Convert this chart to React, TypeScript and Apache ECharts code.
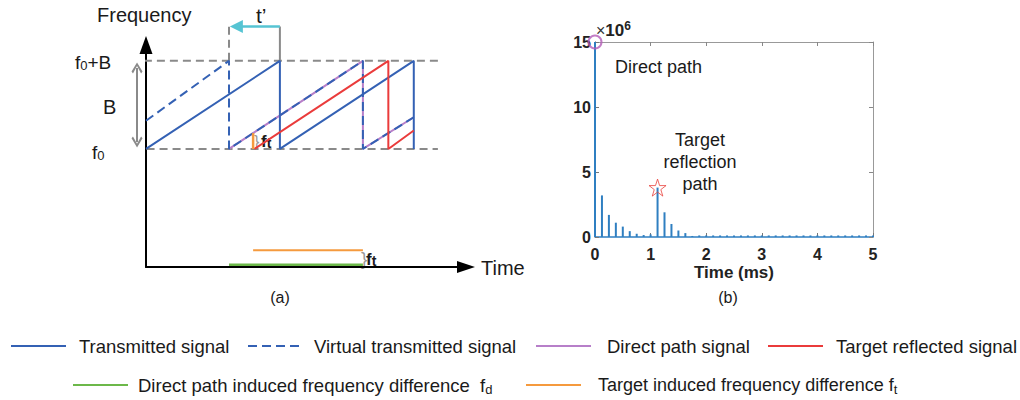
import React, { useEffect, useRef } from "react";
import * as echarts from "echarts";

const FONT = "'Liberation Sans', Arial, Helvetica, sans-serif";

// ---------- (a) schematic: x = time in chirp periods, y = frequency (B = 1, time axis at 0)
const transmittedSignal = [[0, 1.34], [1, 2.34], [1, 1.34], [2, 2.34], [2, 1.34]];
const virtualSignal = [[0, 1.66], [0.62, 2.34], [0.62, 1.34], [1.62, 2.34], [1.62, 1.34], [2, 1.7]];
const directPathSignal = [[0.62, 1.34], [1.62, 2.34], [1.62, 1.34], [2, 1.7]];
const targetReflectedSignal = [[0.81, 1.34], [1.81, 2.34], [1.81, 1.34], [2, 1.55]];
const levelF0 = [[-0.19, 1.34], [2.18, 1.34]];
const levelF0B = [[-0.21, 2.34], [2.18, 2.34]];
const virtualGuide = [[0.62, 2.34], [0.62, 2.73]];
const txGuide = [[1, 2.34], [1, 2.73]];
const tPrimeArrow = [[1, 2.73], [0.675, 2.73]];
const bandArrow = [[-0.067, 1.42], [-0.067, 2.26]];
const ftMarker = [[0.8, 1.34], [0.8, 1.52]];
const fdDifference = [[0.62, 0.025], [1.62, 0.025]];
const ftDifference = [[0.8, 0.19], [1.62, 0.19]];

// ---------- (b) stem plot: time (ms) vs magnitude (x10^6)
const stemTimes = [
  0, 0.125, 0.25, 0.375, 0.5, 0.625, 0.75, 0.875, 1, 1.125, 1.25, 1.375, 1.5, 1.625,
  1.75, 1.875, 2, 2.125, 2.25, 2.375, 2.5, 2.625, 2.75, 2.875, 3, 3.125, 3.25, 3.375,
  3.5, 3.625, 3.75, 3.875, 4, 4.125, 4.25, 4.375, 4.5, 4.625, 4.75, 4.875, 5,
];
const stemValues = [
  15, 3.2, 1.7, 1.1, 0.8, 0.45, 0.25, 0.15, 0.2, 3.8, 1.9, 1.0, 0.5, 0.3,
  0.08, 0.12, 0.12, 0.12, 0.12, 0.12, 0.12, 0.12, 0.12, 0.12, 0.12, 0.12, 0.12, 0.12,
  0.12, 0.12, 0.12, 0.12, 0.12, 0.12, 0.12, 0.12, 0.12, 0.12, 0.12, 0.12, 0.12,
];
const directPeak = [[0, 15]];
const targetPeak = [[1.125, 3.8]];

const legendNames = [
  "Transmitted signal",
  "Virtual transmitted signal",
  "Direct path signal",
  "Target reflected signal",
  "Direct path induced frequency difference",
  "Target induced frequency difference",
];

const BLUE = "#3461b4";
const PURPLE = "#b77fc9";
const RED = "#ea3b3b";
const GREEN = "#6cb84a";
const ORANGE = "#f59a3e";
const GRAY = "#8a8a8a";
const CYAN = "#56c4d3";
const STEM = "#2f7fc1";
const TXT = "#1a1a1a";

const STAR =
  "path://M50,0 L61.8,35.4 L98.9,35.4 L68.9,57.3 L80.3,92.7 L50,70.8 L19.7,92.7 L31.1,57.3 L1.1,35.4 L38.2,35.4 Z";
const CHEVRON = "path://M0,8 L6,0 L12,8 L10.4,9.6 L6,3.2 L1.6,9.6 Z";

function lineS(name: string | undefined, data: number[][], color: string, width: number, type: any, z: number) {
  return {
    type: "line",
    name,
    data,
    xAxisIndex: 0,
    yAxisIndex: 0,
    symbol: "none",
    showSymbol: false,
    clip: false,
    silent: true,
    z,
    lineStyle: { color, width, type },
    itemStyle: { color },
  };
}

function legendItem(name: string, left: number, top: number, padLeft: number, fontSize: number, formatter?: string) {
  return {
    data: [name],
    left,
    top,
    padding: 0,
    itemWidth: 55,
    itemHeight: 14,
    selectedMode: false,
    lineStyle: { width: 2 },
    itemStyle: { color: "rgba(0,0,0,0)", borderWidth: 0 },
    formatter: formatter || "{name}",
    textStyle: {
      fontFamily: FONT,
      fontSize,
      color: TXT,
      lineHeight: 22,
      padding: [0, 0, 0, padLeft],
      rich: {
        sub: { fontFamily: FONT, fontSize: 13, color: TXT, verticalAlign: "bottom", lineHeight: 18 },
      },
    },
  };
}

function txt(x: number, y: number, text: string, extra: any = {}) {
  return {
    type: "text",
    x,
    y,
    silent: true,
    style: {
      text,
      fontFamily: FONT,
      fontSize: 18,
      fill: TXT,
      align: "left",
      verticalAlign: "middle",
      ...extra,
    },
  };
}

export default function App() {
  const ref = useRef<HTMLDivElement>(null);
  useEffect(() => {
    if (!ref.current) return;
    const chart = echarts.init(ref.current, null, { renderer: "svg" });
    const subRich = {
      f: { fontFamily: FONT, fontSize: 19, fill: TXT },
      s: { fontFamily: FONT, fontSize: 13, fill: TXT, padding: [7, 0, 0, 0] },
      b: { fontFamily: FONT, fontSize: 17, fontWeight: "bold", fill: TXT },
      bs: { fontFamily: FONT, fontSize: 14, fontWeight: "bold", fill: TXT, padding: [3, 0, 0, 0] },
    };
    const option: any = {
      animation: false,
      backgroundColor: "#ffffff",
      grid: [
        { left: 146, top: 45, width: 320, height: 222 },
        { left: 595, top: 42, width: 278, height: 195 },
      ],
      xAxis: [
        {
          type: "value",
          gridIndex: 0,
          min: 0,
          max: 2.39,
          axisLine: {
            show: true,
            onZero: false,
            lineStyle: { color: "#000", width: 2 },
            symbol: ["none", "triangle"],
            symbolSize: [12, 18],
          },
          axisTick: { show: false },
          axisLabel: { show: false },
          splitLine: { show: false },
        },
        {
          type: "value",
          gridIndex: 1,
          min: 0,
          max: 5,
          interval: 1,
          axisLine: { show: true, onZero: false, lineStyle: { color: STEM, width: 1.5 } },
          axisTick: { show: true, inside: true, length: 4, lineStyle: { color: "#777" } },
          axisLabel: {
            show: true,
            margin: 9,
            fontFamily: FONT,
            fontSize: 16,
            fontWeight: "bold",
            color: "#222",
          },
          splitLine: { show: false },
          name: "Time (ms)",
          nameLocation: "middle",
          nameGap: 27,
          nameTextStyle: { fontFamily: FONT, fontSize: 17, fontWeight: "bold", color: "#222" },
        },
        {
          type: "value",
          gridIndex: 1,
          position: "top",
          min: 0,
          max: 5,
          interval: 1,
          axisLine: { show: true, onZero: false, lineStyle: { color: "#999", width: 1 } },
          axisTick: { show: true, inside: true, length: 4, lineStyle: { color: "#888" } },
          axisLabel: { show: false },
          splitLine: { show: false },
        },
      ],
      yAxis: [
        {
          type: "value",
          gridIndex: 0,
          min: 0,
          max: 2.52,
          axisLine: {
            show: true,
            onZero: false,
            lineStyle: { color: "#000", width: 2 },
            symbol: ["none", "triangle"],
            symbolSize: [13, 18],
          },
          axisTick: { show: false },
          axisLabel: { show: false },
          splitLine: { show: false },
        },
        {
          type: "value",
          gridIndex: 1,
          min: 0,
          max: 15,
          interval: 5,
          axisLine: { show: true, onZero: false, lineStyle: { color: "#444", width: 1 } },
          axisTick: { show: true, inside: true, length: 4, lineStyle: { color: "#777" } },
          axisLabel: {
            show: true,
            margin: 4,
            fontFamily: FONT,
            fontSize: 16,
            fontWeight: "bold",
            color: "#222",
          },
          splitLine: { show: false },
        },
        {
          type: "value",
          gridIndex: 1,
          position: "right",
          min: 0,
          max: 15,
          interval: 5,
          axisLine: { show: true, onZero: false, lineStyle: { color: "#999", width: 1 } },
          axisTick: { show: true, inside: true, length: 4, lineStyle: { color: "#888" } },
          axisLabel: { show: false },
          splitLine: { show: false },
        },
      ],
      legend: [
        legendItem(legendNames[0], 10, 335, 8, 18.5),
        legendItem(legendNames[1], 247, 335, 6, 18.5),
        legendItem(legendNames[2], 535, 335, 11, 18.5),
        legendItem(legendNames[3], 767, 335, 8, 18.5),
        legendItem(legendNames[4], 72, 374, 5, 18.5, "{name}  f{sub|d}"),
        legendItem(legendNames[5], 525, 374, 12, 18, "{name} f{sub|t}"),
      ],
      series: [
        lineS(undefined, levelF0, GRAY, 2, [8, 5], 1),
        lineS(undefined, levelF0B, GRAY, 2, [8, 5], 1),
        lineS(undefined, virtualGuide, GRAY, 2, [8, 5], 1),
        lineS(undefined, txGuide, GRAY, 2, "solid", 1),
        lineS(legendNames[2], directPathSignal, PURPLE, 2, "solid", 2),
        lineS(legendNames[1], virtualSignal, BLUE, 2, [9, 5], 3),
        lineS(legendNames[0], transmittedSignal, BLUE, 2, "solid", 4),
        lineS(legendNames[3], targetReflectedSignal, RED, 2, "solid", 4),
        lineS(undefined, ftMarker, ORANGE, 2.5, "solid", 5),
        lineS(legendNames[4], fdDifference, GREEN, 2.5, "solid", 5),
        lineS(legendNames[5], ftDifference, ORANGE, 2, "solid", 5),
        {
          type: "lines",
          coordinateSystem: "cartesian2d",
          xAxisIndex: 0,
          yAxisIndex: 0,
          clip: false,
          silent: true,
          z: 6,
          data: [{ coords: tPrimeArrow }],
          symbol: ["none", "triangle"],
          symbolSize: 13,
          lineStyle: { color: CYAN, width: 2.5, opacity: 1, curveness: 0 },
          itemStyle: { color: CYAN },
        },
        {
          type: "lines",
          coordinateSystem: "cartesian2d",
          xAxisIndex: 0,
          yAxisIndex: 0,
          clip: false,
          silent: true,
          z: 6,
          data: [{ coords: bandArrow }],
          symbol: [CHEVRON, CHEVRON],
          symbolSize: 11,
          lineStyle: { color: GRAY, width: 2, opacity: 1, curveness: 0 },
          itemStyle: { color: GRAY },
        },
        {
          type: "bar",
          xAxisIndex: 1,
          yAxisIndex: 1,
          barWidth: 2,
          silent: true,
          data: stemTimes.map((t, i) => [t, stemValues[i]]),
          itemStyle: { color: STEM },
          z: 3,
        },
        {
          type: "scatter",
          xAxisIndex: 1,
          yAxisIndex: 1,
          clip: false,
          silent: true,
          z: 5,
          data: directPeak,
          symbol: "circle",
          symbolSize: 13,
          itemStyle: { color: "rgba(0,0,0,0)", borderColor: "#b45cb8", borderWidth: 2 },
        },
        {
          type: "scatter",
          xAxisIndex: 1,
          yAxisIndex: 1,
          clip: false,
          silent: true,
          z: 5,
          data: targetPeak,
          symbol: STAR,
          symbolSize: 17,
          itemStyle: { color: "rgba(0,0,0,0)", borderColor: "#e8413c", borderWidth: 1 },
        },
      ],
      graphic: [
        txt(97, 15, "Frequency", { fontSize: 20 }),
        txt(256, 15, "t\u2019", { fontSize: 21 }),
        txt(75, 62, "{f|f}{s|0}{f|+B}", { rich: subRich }),
        txt(103, 107, "B", { fontSize: 20 }),
        txt(92, 152, "{f|f}{s|0}", { rich: subRich }),
        txt(254, 141, "}", { fontSize: 16, fill: "#999" }),
        txt(261, 141, "{b|f}{bs|t}", { rich: subRich }),
        txt(361, 258, "}", { fontSize: 19, fill: "#999" }),
        txt(366, 259, "{b|f}{bs|t}", { rich: subRich }),
        txt(481, 268, "Time", { fontSize: 20 }),
        txt(280, 297, "(a)", { fontSize: 16, align: "center" }),
        txt(728, 297, "(b)", { fontSize: 16, align: "center" }),
        txt(596, 30, "{x|\u00d7}{n|10}{e|6}", {
          rich: {
            x: { fontFamily: FONT, fontSize: 16, fill: "#333" },
            n: { fontFamily: FONT, fontSize: 17, fontWeight: "bold", fill: "#222" },
            e: { fontFamily: FONT, fontSize: 12, fontWeight: "bold", fill: "#222", padding: [0, 0, 9, 0] },
          },
        }),
        txt(615, 67, "Direct path"),
        txt(700, 140, "Target", { align: "center" }),
        txt(700, 162, "reflection", { align: "center" }),
        txt(700, 184, "path", { align: "center" }),
      ],
    };
    chart.setOption(option);
    return () => chart.dispose();
  }, []);
  return (
    <div
      ref={ref}
      style={{ position: "fixed", left: 0, top: 0, width: 1020, height: 400, background: "#fff" }}
    />
  );
}
